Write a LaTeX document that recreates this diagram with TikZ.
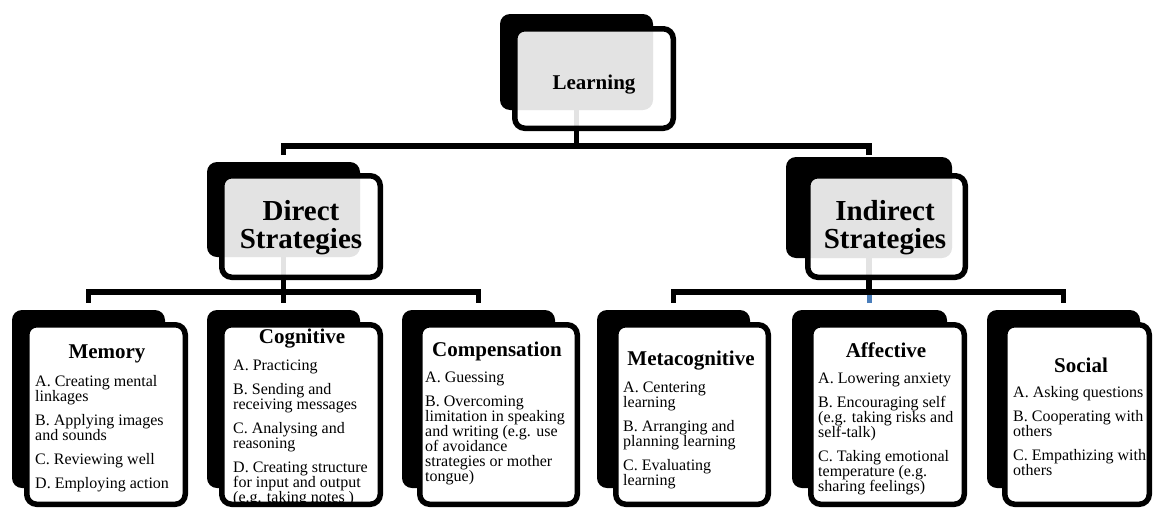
\documentclass[tikz,border=0pt]{standalone}
\usepackage{fontspec}
\setmainfont{Liberation Serif}
\definecolor{stubblue}{HTML}{4A7EBB}
\begin{document}
\begin{tikzpicture}[x=1pt,y=-1pt,
  backbox/.style={shape=rectangle, fill=black, draw=none, rounded corners=10pt, inner sep=0pt, outer sep=0pt},
  frontbox/.style={shape=rectangle, fill=white, draw=black, line width=5.5pt, rounded corners=10pt, inner sep=0pt, outer sep=0pt},
  glassbox/.style={frontbox, fill opacity=0.89},
  conn/.style={draw=black, line width=5.5pt},
  ttl/.style={font=\bfseries\fontsize{21}{21}\selectfont, anchor=base, inner sep=0pt},
  ttlbig/.style={font=\bfseries\fontsize{29}{28}\selectfont, anchor=north, align=center, inner sep=0pt},
  body/.style={font=\fontsize{16}{15}\selectfont, anchor=north west, align=left, inner sep=0pt}
]
\useasboundingbox (0,0) rectangle (1153,509);

% back boxes
\node[backbox, minimum width=153pt, minimum height=96pt] (lb) at (576.5,62) {};
\node[backbox, minimum width=153pt, minimum height=95pt] (db) at (283.5,209.5) {};
\node[backbox, minimum width=166pt, minimum height=101pt] (ib) at (869,207.5) {};
\node[backbox, minimum width=153pt, minimum height=178pt] (mb) at (88.5,399) {};
\node[backbox, minimum width=153pt, minimum height=178pt] (cb) at (283.5,399) {};
\node[backbox, minimum width=153pt, minimum height=178pt] (pb) at (478.5,399) {};
\node[backbox, minimum width=153pt, minimum height=178pt] (tb) at (673.5,399) {};
\node[backbox, minimum width=155pt, minimum height=178pt] (ab) at (869.5,399) {};
\node[backbox, minimum width=153pt, minimum height=178pt] (sb) at (1063.5,399) {};

% connectors
\draw[conn] (lb.south) -- ++(0,36) -| ([yshift=7pt]db.north);
\draw[conn] (lb.south) -- ++(0,36) -| ([yshift=2pt]ib.north);
\draw[conn] (db.south) -- ++(0,35) -| ([yshift=7pt]mb.north);
\draw[conn] (db.south) -- ++(0,35) -| ([yshift=7pt]cb.north);
\draw[conn] (db.south) -- ++(0,35) -| ([yshift=7pt]pb.north);
\draw[conn] (ib.south) -- ++(0,34) -| ([yshift=7pt]tb.north);
\draw[conn] (ib.south) -- ++(0,34) -| ([yshift=7pt]ab.north);
\draw[conn] (ib.south) -- ++(0,34) -| ([yshift=7pt]sb.north);
\draw[conn, draw=stubblue] ([yshift=7pt]ab.north) -- ([yshift=15pt]ab.north);

% front boxes
\node[glassbox, minimum width=158.5pt, minimum height=99.5pt] (lf) at (594,78.5) {};
\node[glassbox, minimum width=158.5pt, minimum height=101.5pt] (df) at (301,226.5) {};
\node[glassbox, minimum width=157.5pt, minimum height=101.5pt] (if) at (886.5,226.5) {};
\node[frontbox, minimum width=158.5pt, minimum height=179.5pt] (mf) at (106,414.5) {};
\node[frontbox, minimum width=158.5pt, minimum height=179.5pt] (cf) at (301,414.5) {};
\node[frontbox, minimum width=157.5pt, minimum height=179.5pt] (pf) at (498.5,414.5) {};
\node[frontbox, minimum width=152.5pt, minimum height=179.5pt] (tf) at (692,414.5) {};
\node[frontbox, minimum width=153.5pt, minimum height=179.5pt] (af) at (887.5,414.5) {};
\node[frontbox, minimum width=144.5pt, minimum height=179.5pt] (sf) at (1077,414.5) {};

% titles
\node[ttl] (lt) at (594,89) {Learning};
\node[ttlbig] (dt) at (301,199) {\rule{0pt}{21pt}Direct\\Strategies};
\node[ttlbig] (it) at (885,199) {\rule{0pt}{21pt}Indirect\\Strategies};
\node[ttl] (mt) at (107,358) {Memory};
\node[ttl] (ct) at (302,343) {Cognitive};
\node[ttl] (pt) at (497,356) {Compensation};
\node[ttl] (tt) at (691,365) {Metacognitive};
\node[ttl] (at) at (886,357) {Affective};
\node[ttl] (st) at (1081,372) {Social};

% bodies
\node[body] (mx) at (35,374) {\rule{0pt}{12pt}A. Creating mental\\linkages\\[9pt]B. Applying images\\and sounds\\[9pt]C. Reviewing well\\[9pt]D. Employing action};
\node[body] (cx) at (233,358) {\rule{0pt}{12pt}A. Practicing\\[9pt]B. Sending and\\receiving messages\\[9pt]C. Analysing and\\reasoning\\[9pt]D. Creating structure\\for input and output\\(e.g. taking notes )};
\node[body] (px) at (425,370) {\rule{0pt}{12pt}A. Guessing\\[9pt]B. Overcoming\\limitation in speaking\\and writing (e.g. use\\of avoidance\\strategies or mother\\tongue)};
\node[body] (tx) at (623,380) {\rule{0pt}{12pt}A. Centering\\learning\\[9pt]B. Arranging and\\planning learning\\[9pt]C. Evaluating\\learning};
\node[body] (ax) at (818,371) {\rule{0pt}{12pt}A. Lowering anxiety\\[9pt]B. Encouraging self\\(e.g. taking risks and\\self-talk)\\[9pt]C. Taking emotional\\temperature (e.g.\\sharing feelings)};
\node[body] (sx) at (1013,385) {\rule{0pt}{12pt}A. Asking questions\\[9pt]B. Cooperating with\\others\\[9pt]C. Empathizing with\\others};
\end{tikzpicture}
\end{document}
